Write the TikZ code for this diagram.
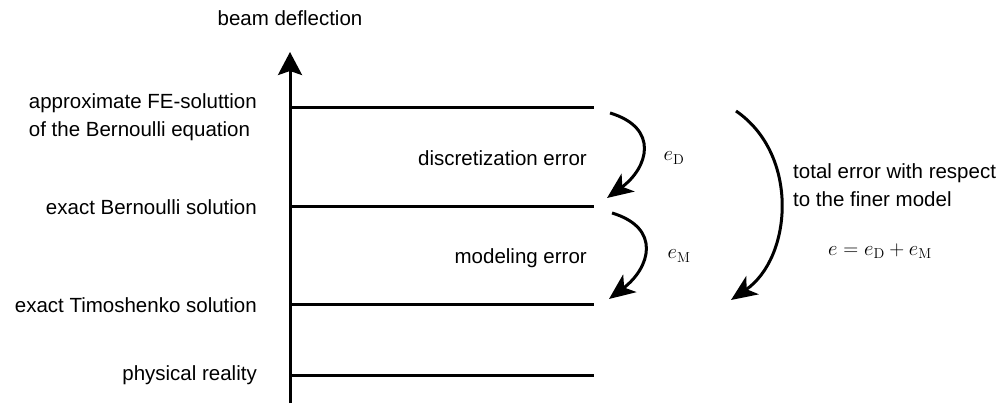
\documentclass[tikz,border=0pt]{standalone}
\usepackage[no-math]{fontspec}
\setmainfont{Liberation Sans}
\usetikzlibrary{arrows.meta}
\begin{document}
\begin{tikzpicture}[x=1pt,y=-1pt,
  lbl/.style={font=\fontsize{20.5}{28}\selectfont, inner sep=0pt},
  level/.style={line width=3pt},
  axis/.style={line width=3pt,-{Stealth[length=23pt,width=24pt,inset=4pt]}},
  curvearrow/.style={line width=3pt,-{Stealth[length=26pt,width=22pt,inset=7pt]}}]
\useasboundingbox (0,0) rectangle (1005,406);
% axis
\coordinate (a0) at (290,403);
\coordinate (a1) at (290,52);
\draw[axis] (a0) -- (a1);
\node[lbl] (title) at (290,18) {beam deflection};
% levels
\foreach \n/\y in {fe/108, be/207, ti/305, ph/375}{
  \coordinate (\n L) at (290,\y);
  \coordinate (\n R) at (594,\y);
  \draw[level] (\n L) -- (\n R);
}
% labels
\node[lbl, anchor=east, align=left] (tfe) at (257,117) {approximate FE-soluttion\\of the Bernoulli equation};
\node[lbl, anchor=east] (tbe) at (257,207) {exact Bernoulli solution};
\node[lbl, anchor=east] (tti) at (257,305) {exact Timoshenko solution};
\node[lbl, anchor=east] (tph) at (257,375) {physical reality};
\node[lbl, anchor=east] (tde) at (587,158) {discretization error};
\node[lbl, anchor=east] (tme) at (587,258) {modeling error};
\node[lbl] (eD) at (674,158) {$e_{\mathrm{D}}$};
\node[lbl] (eM) at (679,256) {$e_{\mathrm{M}}$};
\node[lbl, anchor=west, align=left] (ttot) at (793,185) {total error with respect\\to the finer model};
\node[lbl] (esum) at (880,251) {$e=e_{\mathrm{D}}+e_{\mathrm{M}}$};
% curved arrows
\coordinate (d0) at (610,113);
\coordinate (d1) at (607,198);
\coordinate (m0) at (612,213);
\coordinate (m1) at (609,299);
\coordinate (t0) at (736,111);
\coordinate (t1) at (731,300);
\draw[curvearrow] (d0) .. controls (660,128) and (648,168) .. (d1);
\draw[curvearrow] (m0) .. controls (662,228) and (650,268) .. (m1);
\draw[curvearrow] (t0) .. controls (800,155) and (792,258) .. (t1);
\end{tikzpicture}
\end{document}
